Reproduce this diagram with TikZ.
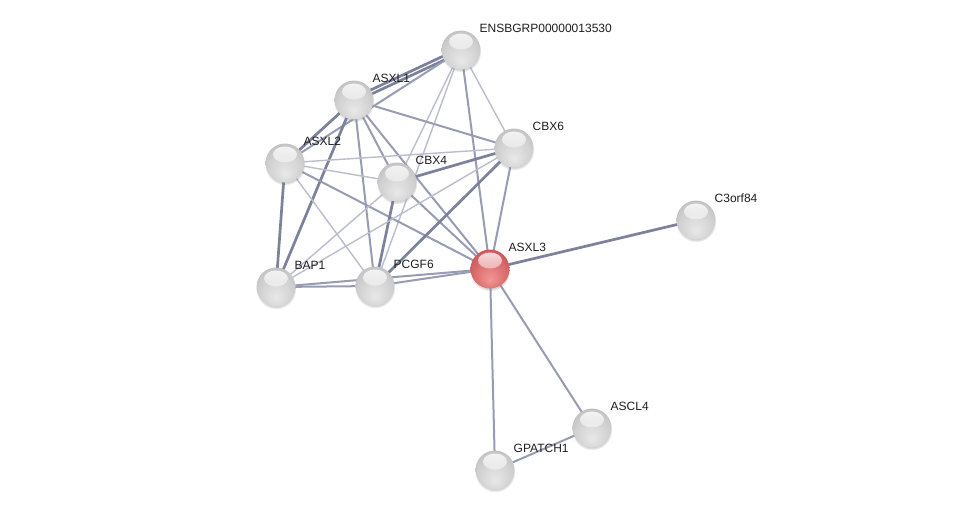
\documentclass[tikz,border=0pt]{standalone}
\usepackage{fontspec}
\setmainfont{Liberation Sans}
\usetikzlibrary{fadings,shadows,calc}
\pgfdeclarelayer{back}
\pgfdeclarelayer{bg}
\pgfsetlayers{back,bg,main}
\definecolor{ethin}{RGB}{186,189,206}
\definecolor{emed}{RGB}{152,156,179}
\definecolor{ethick}{RGB}{124,129,156}
\definecolor{gball0}{RGB}{232,232,232}
\definecolor{gball1}{RGB}{208,208,208}
\definecolor{gball2}{RGB}{186,186,186}
\definecolor{gball3}{RGB}{148,148,148}
\definecolor{gball4}{RGB}{105,105,105}
\definecolor{rball0}{RGB}{242,150,150}
\definecolor{rball1}{RGB}{216,104,104}
\definecolor{rball2}{RGB}{196,78,78}
\definecolor{rball3}{RGB}{158,50,50}
\definecolor{rball4}{RGB}{118,30,30}
\pgfdeclareradialshading{greyball}{\pgfpoint{0bp}{-14bp}}{color(0bp)=(gball0); color(22bp)=(gball1); color(36bp)=(gball2); color(45bp)=(gball3); color(50bp)=(gball4)}
\pgfdeclareradialshading{redball}{\pgfpoint{0bp}{-14bp}}{color(0bp)=(rball0); color(22bp)=(rball1); color(36bp)=(rball2); color(45bp)=(rball3); color(50bp)=(rball4)}
\tikzset{
  ball/.style={circle, minimum size=39pt, inner sep=0pt, draw=none, shade,
    circular drop shadow={shadow xshift=0pt, shadow yshift=-2pt, shadow scale=1.04, opacity=0.35},
    path picture={\fill[white, path fading=south, fill opacity=0.85] ([yshift=8.5pt]path picture bounding box.center) ellipse (12pt and 8pt);}},
  gball/.style={ball, shading=greyball},
  rball/.style={ball, shading=redball},
  lbl/.style={anchor=base west, inner sep=0pt, text=black!88, font=\fontsize{12}{14}\selectfont},
  ewA/.style={line width=1.4pt, draw=ethin},
  ewB/.style={line width=2pt, draw=emed},
  ewC/.style={line width=2.7pt, draw=ethick},
}
\begin{document}
\begin{tikzpicture}[x=1pt,y=-1pt]
\begin{pgfonlayer}{back}
\fill[white] (0,0) rectangle (976,515);
\end{pgfonlayer}
\useasboundingbox (0,0) rectangle (976,515);
% nodes
\node[gball] (E)  at (461,50)  {};
\node[gball] (A1) at (354,100) {};
\node[gball] (A2) at (285,163) {};
\node[gball] (C4) at (397,182) {};
\node[gball] (C6) at (514,148) {};
\node[gball] (C3) at (696,220) {};
\node[rball] (A3) at (490,269) {};
\node[gball] (B)  at (276,287) {};
\node[gball] (P)  at (375,286) {};
\node[gball] (L4) at (592,428) {};
\node[gball] (G)  at (495,470) {};
% labels
\node[lbl] (tE)  at ($(E)+(18.5,-18)$)  {ENSBGRP00000013530};
\node[lbl] (tA1) at ($(A1)+(18.5,-18)$) {ASXL1};
\node[lbl] (tA2) at ($(A2)+(18.5,-18)$) {ASXL2};
\node[lbl] (tC4) at ($(C4)+(18.5,-18)$) {CBX4};
\node[lbl] (tC6) at ($(C6)+(18.5,-18)$) {CBX6};
\node[lbl] (tC3) at ($(C3)+(18.5,-18)$) {C3orf84};
\node[lbl] (tA3) at ($(A3)+(18.5,-18)$) {ASXL3};
\node[lbl] (tB)  at ($(B)+(18.5,-18)$)  {BAP1};
\node[lbl] (tP)  at ($(P)+(18.5,-18)$)  {PCGF6};
\node[lbl] (tL4) at ($(L4)+(18.5,-18)$) {ASCL4};
\node[lbl] (tG)  at ($(G)+(18.5,-18)$)  {GPATCH1};
% edges
\begin{pgfonlayer}{bg}
\draw[ewC] ($(E.center)!2pt!90:(A1.center)$) -- ($(A1.center)!2pt!-90:(E.center)$);
\draw[ewC] ($(E.center)!2pt!-90:(A1.center)$) -- ($(A1.center)!2pt!90:(E.center)$);
\draw[ewB] (E.center) -- (A2.center);
\draw[ewA] (E.center) -- (C4.center);
\draw[ewA] (E.center) -- (P.center);
\draw[ewB] (E.center) -- (A3.center);
\draw[ewA] (E.center) -- (C6.center);
\draw[ewC] (A1.center) -- (A2.center);
\draw[ewB] (A1.center) -- (C6.center);
\draw[ewB] (A1.center) -- (C4.center);
\draw[ewB] (A1.center) -- (A3.center);
\draw[ewB] (A1.center) -- (P.center);
\draw[ewC] (A1.center) -- (B.center);
\draw[ewA] (A2.center) -- (C6.center);
\draw[ewA] (A2.center) -- (C4.center);
\draw[ewC] (A2.center) -- (B.center);
\draw[ewB] (A2.center) -- (A3.center);
\draw[ewA] (A2.center) -- (P.center);
\draw[ewC] (C4.center) -- (C6.center);
\draw[ewC] (C4.center) -- (P.center);
\draw[ewA] (C4.center) -- (B.center);
\draw[ewB] (C4.center) -- (A3.center);
\draw[ewB] (C6.center) -- (A3.center);
\draw[ewC] (C6.center) -- (P.center);
\draw[ewA] (C6.center) -- (B.center);
\draw[ewC] (A3.center) -- (C3.center);
\draw[ewB] (A3.center) -- (L4.center);
\draw[ewB] (A3.center) -- (G.center);
\draw[ewB] (A3.center) -- (P.center);
\draw[ewB] (A3.center) -- (B.center);
\draw[ewB] (B.center) -- (P.center);
\draw[ewB] (L4.center) -- (G.center);
\end{pgfonlayer}
\end{tikzpicture}
\end{document}
